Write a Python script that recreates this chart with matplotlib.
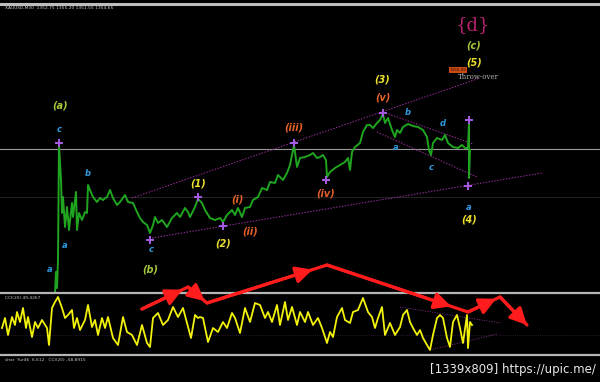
import numpy as np
import matplotlib
matplotlib.use("Agg")
import matplotlib.pyplot as plt

# price data (XAUUSD M30), bar index vs price
bars = [55, 56, 57, 58, 59, 61, 62, 63, 65, 67, 69, 72, 73, 76, 77, 79, 82, 85, 87, 88,
        90, 93, 97, 100, 103, 107, 110, 113, 117, 120, 125, 128, 133, 137, 140, 143, 147, 150, 153, 155,
        158, 162, 167, 172, 177, 180, 185, 188, 190, 195, 198, 202, 205, 210, 215, 220, 223, 227, 232, 235,
        238, 242, 245, 250, 253, 258, 262, 267, 270, 275, 278, 283, 287, 290, 293, 294, 297, 300, 305, 310,
        313, 317, 320, 323, 326, 327, 330, 335, 340, 345, 348, 350, 352, 355, 360, 363, 367, 370, 373, 377,
        380, 383, 385, 388, 392, 395, 397, 400, 403, 408, 413, 418, 423, 427, 429, 431, 433, 437, 442, 445,
        448, 453, 458, 462, 465, 468, 469, 469, 470]
price = [1340.25, 1342.35, 1340.75, 1343.55, 1355.05, 1351.55, 1348.25, 1349.85, 1346.85, 1348.85,
         1346.55, 1349.25, 1347.85, 1350.35, 1346.55, 1348.25, 1347.55, 1348.35, 1348.25, 1351.05,
         1350.55, 1349.85, 1349.35, 1349.75, 1349.55, 1349.85, 1350.55, 1349.75, 1349.05, 1349.35,
         1350.05, 1349.35, 1349.25, 1348.35, 1347.75, 1347.35, 1347.05, 1346.25, 1347.05, 1347.85,
         1347.25, 1347.55, 1346.85, 1347.75, 1348.25, 1347.85, 1348.75, 1348.35, 1347.85, 1348.85,
         1349.65, 1349.25, 1348.55, 1347.75, 1347.55, 1347.75, 1347.35, 1348.05, 1348.55, 1348.05,
         1348.75, 1347.85, 1348.75, 1348.85, 1349.55, 1349.85, 1350.75, 1350.55, 1351.35, 1351.25,
         1352.05, 1351.55, 1352.25, 1353.05, 1354.55, 1355.05, 1352.85, 1353.75, 1353.85, 1354.05,
         1354.25, 1353.75, 1353.85, 1354.05, 1353.55, 1351.85, 1352.35, 1352.75, 1353.05, 1353.35,
         1353.75, 1352.55, 1354.35, 1354.85, 1355.25, 1356.35, 1357.05, 1357.05, 1356.75, 1357.25,
         1357.55, 1358.15, 1357.25, 1357.75, 1356.55, 1355.85, 1356.55, 1356.25, 1356.85, 1357.15,
         1356.95, 1356.85, 1356.55, 1355.85, 1354.55, 1354.05, 1355.25, 1355.75, 1355.55, 1356.05,
         1355.25, 1354.85, 1354.75, 1355.05, 1354.75, 1354.75, 1357.35, 1351.75, 1354.55]

current_price = 1354.65
header = "XAUUSD,M30  1352.75 1355.20 1351.55 1354.65"

# CCI(20) indicator
cci_bars = [2, 5, 8, 12, 15, 17, 20, 23, 26, 28, 32, 35, 38, 42, 47, 49, 52, 55, 58, 62,
            65, 68, 72, 74, 77, 80, 85, 88, 92, 95, 98, 102, 105, 108, 113, 118, 123, 127, 132, 137,
            142, 147, 150, 153, 158, 163, 168, 173, 178, 183, 187, 191, 195, 198,
            200, 203, 208, 213, 218, 223, 227, 232, 235, 240, 245, 250, 255, 260, 265, 268,
            272, 277, 280, 285, 288, 292, 297, 300, 305, 308, 313, 318, 322, 327, 330, 333,
            337, 342, 345, 350, 353, 358, 363, 368, 372, 375, 378, 382, 385, 390, 395, 400,
            403, 407, 410, 413, 417, 420, 423, 427, 430, 433, 437, 440, 443, 447, 450, 453,
            457, 460, 463, 467, 468, 470, 472]
cci = [-32, 48, -88, 56, -8, 96, 16, 128, -32, 56, -104, 16, -32, 32, -32, -168, 128, 176, 216, 128,
       48, 72, 112, -32, 48, -48, 32, 152, -24, 32, -88, 48, -32, 56, -112, -168, 56, -64, -88, -168,
       -8, -152, -184, 48, 88, -8, 32, 136, 56, 128, 8, -112, 72, 48,
       56, 48, -144, -32, -64, 16, -32, 88, 48, -72, 128, 16, 168, 152, 48, 96,
       16, 152, -8, 176, 32, 136, -8, 96, 16, 96, -8, 48, -32, -152, -64, -104,
       56, 128, 32, 8, 96, 112, 208, 96, 56, -32, 48, 136, -88, 8, -88, -24,
       72, 112, 16, -32, -88, -48, -112, -168, -208, -88, 48, 72, 48, -112, -184, 16,
       72, -32, -152, 72, -192, 16, -8]

# Elliott wave labels
wave_text = ["(a)", "c", "b", "a", "a", "(b)", "c", "(1)", "(2)", "(i)", "(ii)", "(iii)", "(iv)",
             "(3)", "(v)", "b", "a", "c", "d", "(c)", "(5)", "a", "(4)"]
wave_bar = [60, 59, 88, 65, 50, 150, 151, 198, 223, 237, 250, 294, 326,
            382, 383, 408, 396, 431, 443, 474, 474, 469, 469]
wave_price = [1359.05, 1356.65, 1352.25, 1345.05, 1342.65, 1342.65, 1344.55, 1351.25, 1345.25,
              1349.55, 1346.45, 1356.85, 1350.15, 1361.65, 1359.75, 1358.35, 1354.85, 1352.85,
              1357.25, 1364.95, 1363.35, 1348.75, 1347.55]
wave_kind = ["major", "minor", "minor", "minor", "minor", "major", "minor", "inter", "inter",
             "sub", "sub", "sub", "sub", "inter", "sub", "minor", "minor", "minor", "minor",
             "major", "inter", "minor", "inter"]
kind_color = {"major": "#a6c83a", "inter": "#ece02c", "sub": "#e8602a", "minor": "#2f9be0"}

pivot_bar = [59, 150, 198, 223, 294, 326, 383, 469, 468]
pivot_price = [1355.25, 1345.55, 1349.85, 1346.95, 1355.25, 1351.55, 1358.25, 1357.55, 1350.95]

# channel lines (bar, price pairs)
chan_upper = ([132, 480], [1349.75, 1361.75])
chan_lower = ([152, 542], [1345.75, 1352.25])
wedge_top = ([383, 473], [1358.35, 1355.15])
wedge_bot = ([377, 477], [1356.35, 1351.85])
cci_upper = ([400, 500], [136, 8])
cci_lower = ([430, 497], [-208, -80])

# hand-drawn red forecast path (screen pixels)
red_x = [142, 188, 207, 327, 468, 500, 527]
red_y = [309, 287, 303, 265, 312, 297, 325]

W, H = 600, 382
fig = plt.figure(figsize=(6, 3.82), dpi=100, facecolor="black")

# main price panel
ax = fig.add_axes([0, 1 - 293 / H, 1, 288 / H], facecolor="black")
ax.set_xlim(0, 600)
ax.set_ylim(1340.25, 1369.05)
ax.axis("off")
ax.axhline(current_price, color="#9a9a9a", lw=0.8)
ax.axhline(1349.85, color="#2a2a2a", lw=0.6)
for xs, ys in [chan_upper, chan_lower, wedge_top, wedge_bot]:
    ax.plot(xs, ys, color="#9b2f9b", lw=0.7, ls=(0, (1.5, 1.5)))
ax.plot(bars, price, color="#1fa51f", lw=1.4)
ax.scatter(pivot_bar, pivot_price, marker="P", s=32, color="#a35ae0", zorder=5, linewidths=0)
for t, b, p, k in zip(wave_text, wave_bar, wave_price, wave_kind):
    ax.text(b, p, t, color=kind_color[k], fontsize=7 if k != "minor" else 6,
            fontweight="bold", fontstyle="italic", ha="center", va="center")
ax.text(473, 1367.05, "{d}", color="#b8226e", fontsize=13, family="DejaVu Serif",
        ha="center", va="center")
ax.text(458, 1362.55, "1356.88", color="#401000", fontsize=3, ha="center", va="center",
        bbox=dict(boxstyle="square,pad=0.25", fc="#c84a14", ec="none"))
ax.text(478, 1361.85, "Throw-over", color="#b0b0b0", fontsize=5, family="DejaVu Serif",
        ha="center", va="center")

# CCI panel
ax2 = fig.add_axes([0, 1 - 355 / H, 1, 62 / H], facecolor="black")
ax2.set_xlim(0, 600)
ax2.set_ylim(-248, 248)
ax2.axis("off")
ax2.axhline(-88, color="#3a1f3a", lw=0.6, ls=(0, (1, 1.5)))
for xs, ys in [cci_upper, cci_lower]:
    ax2.plot(xs, ys, color="#7a2a7a", lw=0.6, ls=(0, (1.5, 1.5)))
ax2.plot(cci_bars, cci, color="#f2f20c", lw=1.3)

# overlay in screen pixels: frame lines, texts, red arrows
ov = fig.add_axes([0, 0, 1, 1], facecolor="none")
ov.set_xlim(0, W)
ov.set_ylim(H, 0)
ov.axis("off")
ov.axhline(3.5, color="#bdbdbd", lw=2.2)
ov.axhline(293, color="#b5b5b5", lw=1.6)
ov.axhline(355, color="#b5b5b5", lw=1.6)
ov.text(5, 8, header, color="#d0d0d0", fontsize=3.2, va="center")
ov.text(5, 298, "CCI(20) 49.4267", color="#c8c8c8", fontsize=3.2, va="center")
ov.text(5, 360, "shar  Yur46  6.612   CCI(20) -58.8915", color="#c8c8c8", fontsize=3.2, va="center")
ov.text(596, 370, "[1339x809] https://upic.me/", color="#e8e8e8", fontsize=8.5,
        ha="right", va="center")

ov.plot(red_x, red_y, color="#ff1c1c", lw=2.3, solid_capstyle="round")
for i in range(len(red_x) - 1):
    x0, y0, x1, y1 = red_x[i], red_y[i], red_x[i + 1], red_y[i + 1]
    xe, ye = x0 + 0.88 * (x1 - x0), y0 + 0.88 * (y1 - y0)
    if i == len(red_x) - 2:
        xe, ye = x1, y1
    ov.annotate("", xy=(xe, ye), xytext=(x0, y0),
                arrowprops=dict(arrowstyle="-|>,head_length=1.0,head_width=0.5",
                                color="#ff1c1c", lw=2.3, shrinkA=0, shrinkB=0))

fig.savefig("out.png", dpi=100, facecolor="black")
